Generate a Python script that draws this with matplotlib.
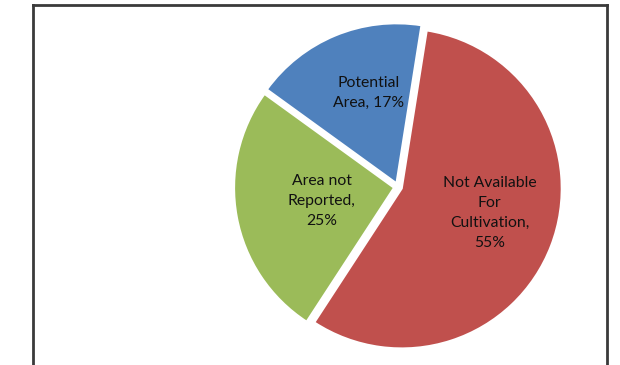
import numpy as np
import matplotlib.pyplot as plt
from matplotlib.lines import Line2D

# land use shares (percent), listed clockwise from the top
labels = ["Not Available\nFor\nCultivation,", "Area not\nReported,", "Potential\nArea,"]
values = [55, 25, 17]
colors = ["#C0504D", "#9BBB59", "#4F81BD"]

# label placement: fraction of radius and turn (deg) from the wedge middle
label_radius = [0.57, 0.46, 0.59]
label_turn = [5.5, 0.0, -5.5]

W, H = 620, 365
fig = plt.figure(figsize=(W / 100, H / 100), dpi=100)

# pie centre and radius in pixels
cx, cy, R = 398, 187, 160
half = 1.1 * R
ax = fig.add_axes([(cx - half) / W, (H - cy - half) / H, 2 * half / W, 2 * half / H])

wedges, _ = ax.pie(values, colors=colors, startangle=81, counterclock=False,
                   explode=[0.025] * 3, radius=1.0,
                   wedgeprops=dict(edgecolor="white", linewidth=1.5))
# pie() resets the limits, so fix them afterwards
ax.set_xlim(-1.1, 1.1)
ax.set_ylim(-1.1, 1.1)
ax.set_aspect("equal")
ax.axis("off")

for w, lab, v, r, turn in zip(wedges, labels, values, label_radius, label_turn):
    mid = np.deg2rad((w.theta1 + w.theta2) / 2 + turn)
    x, y = w.center
    text = f"{lab} {v}%" if lab.endswith("Area,") else f"{lab}\n{v}%"
    ax.text(x + r * np.cos(mid), y + r * np.sin(mid), text,
            ha="center", va="center", fontsize=11.3, family="Lato",
            color="#111111", linespacing=1.55)

# chart frame (bottom edge runs off the image)
frame_kw = dict(color="#3a3a3a", linewidth=2, transform=fig.transFigure)
x0, x1, yt = 33 / W, 607 / W, 1 - 5 / H
fig.add_artist(Line2D([x0, x0], [0, yt], **frame_kw))
fig.add_artist(Line2D([x1, x1], [0, yt], **frame_kw))
fig.add_artist(Line2D([x0, x1], [yt, yt], **frame_kw))

fig.savefig("out.png", dpi=100)
